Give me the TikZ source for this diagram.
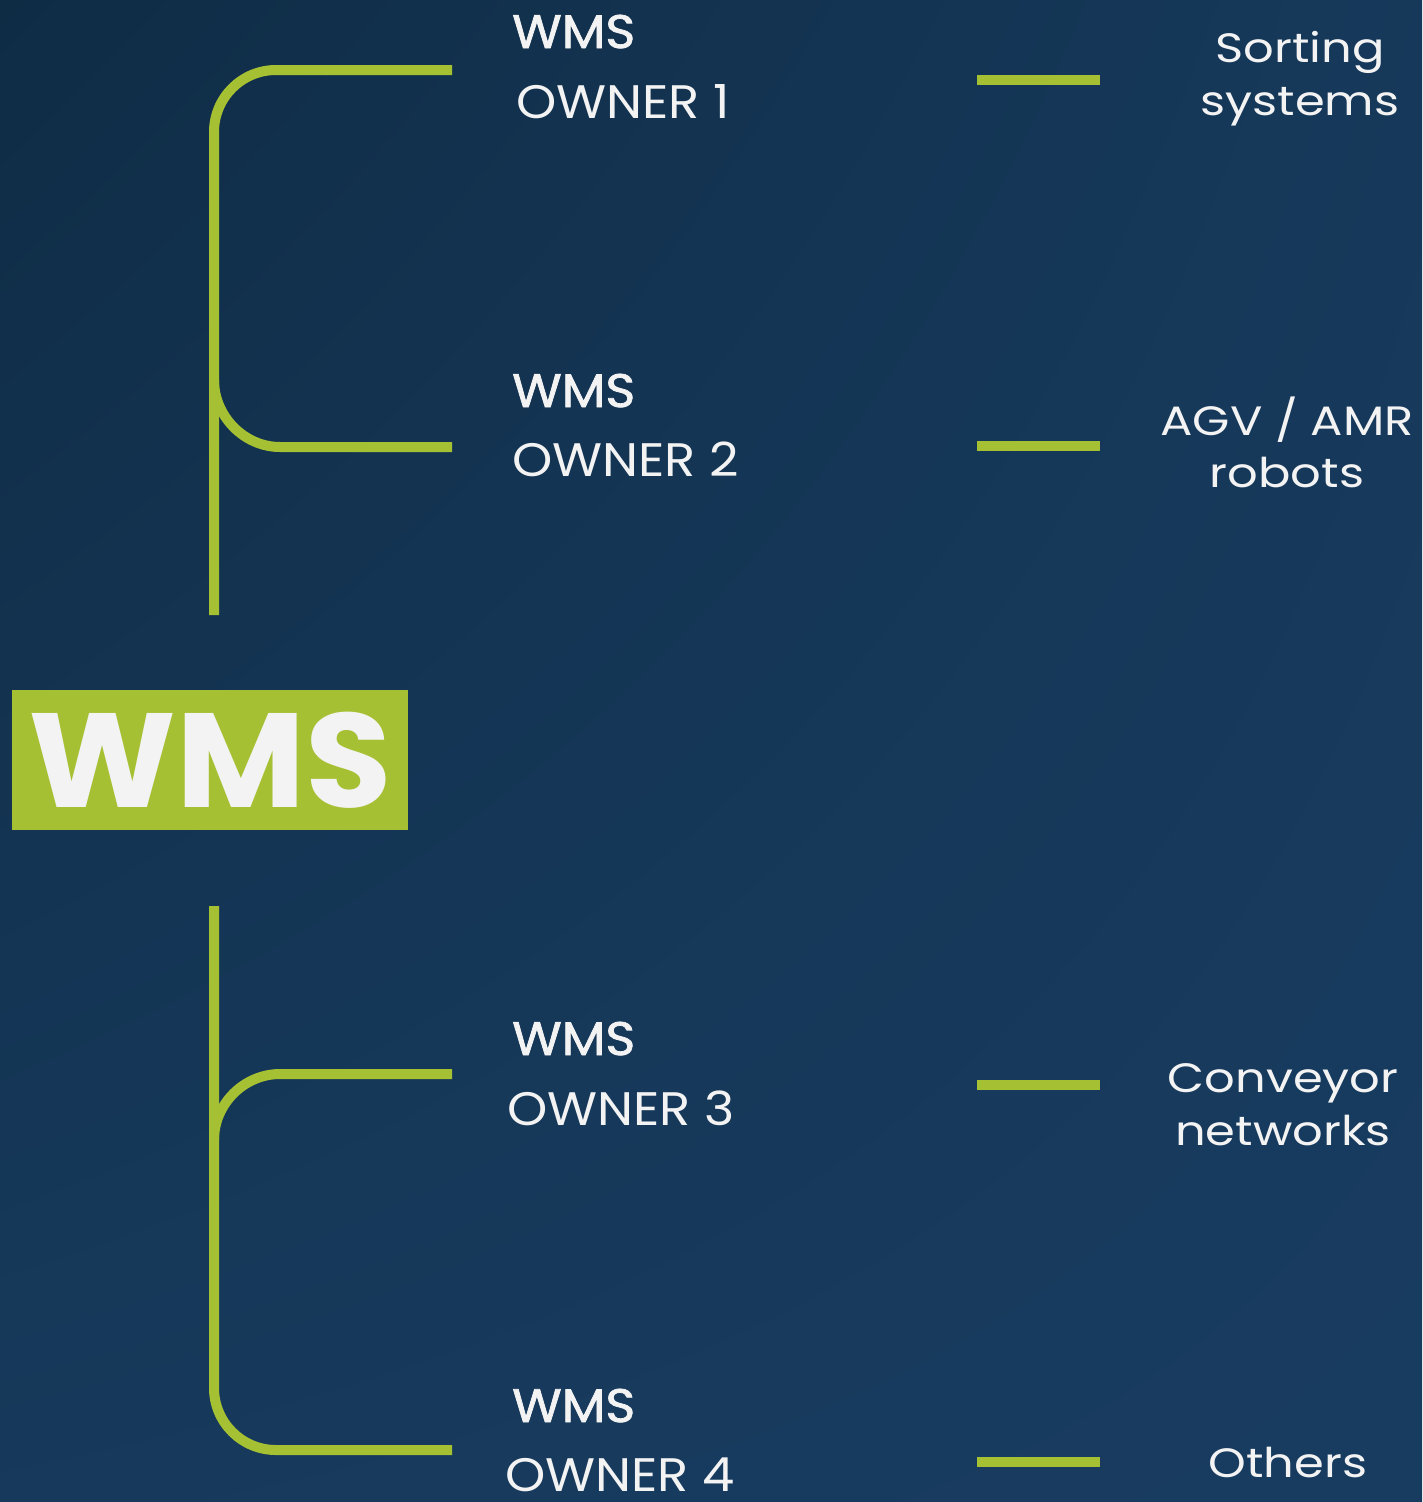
\documentclass[tikz,border=0pt]{standalone}
\usepackage{fontspec}
\setmainfont{Poppins}
\newfontfamily\labfnt[FakeStretch=1.09]{Poppins}
\newfontfamily\labbfnt[FakeStretch=1.08,FakeBold=1.6]{Poppins}
\newfontfamily\rfnt[FakeStretch=1.17]{Poppins}
\newfontfamily\bigfnt[FakeStretch=1.05]{Poppins}
\usetikzlibrary{shadings}
\begin{document}
\begin{tikzpicture}[x=1pt,y=-1pt,
  gline/.style={draw=wmsgreen,line width=10pt,line cap=butt},
  lab/.style={text=txt,inner sep=0pt,anchor=base west},
  rlab/.style={text=txt,inner sep=0pt,anchor=base},
  labfont/.style={font=\labfnt\fontsize{47}{56}\selectfont},
  labbold/.style={font=\labbfnt\fontsize{47}{56}\selectfont},
  rfont/.style={font=\rfnt\fontsize{41}{48}\selectfont}]
\definecolor{wmsgreen}{HTML}{A6C034}
\definecolor{txt}{HTML}{F3F3F3}
\definecolor{bgA}{HTML}{0F2C45}
\definecolor{bgB}{HTML}{183C60}
\useasboundingbox (0,0) rectangle (1422,1502);
\shade[upper left=bgA,lower left=bgB!85!bgA,upper right=bgB!80!bgA,lower right=bgB] (0,0) rectangle (1422,1502);

% central box
\node[fill=wmsgreen,minimum width=396pt,minimum height=140pt,inner sep=0pt,anchor=north west] (box) at (12,690) {};
\node[text=txt,inner sep=0pt,anchor=base,font=\bigfnt\bfseries\fontsize{134}{140}\selectfont] (boxt) at (210,807) {WMS};

% left labels
\node[lab,labbold] (w1) at (512,48) {WMS};
\node[lab,labfont] (o1) at (516,118) {OWNER 1};
\node[lab,labbold] (w2) at (512,407) {WMS};
\node[lab,labfont] (o2) at (512,476) {OWNER 2};
\node[lab,labbold] (w3) at (512,1055) {WMS};
\node[lab,labfont] (o3) at (507,1125) {OWNER 3};
\node[lab,labbold] (w4) at (512,1422) {WMS};
\node[lab,labfont] (o4) at (505,1491) {OWNER 4};

% right labels
\node[rlab,rfont] (r1a) at (1300,62) {Sorting};
\node[rlab,rfont] (r1b) at (1300,115) {systems};
\node[rlab,rfont] (r2a) at (1287,435) {AGV / AMR};
\node[rlab,rfont] (r2b) at (1287,487) {robots};
\node[rlab,rfont] (r3a) at (1283,1092) {Conveyor};
\node[rlab,rfont] (r3b) at (1283,1145) {networks};
\node[rlab,rfont] (r4) at (1288,1477) {Others};

% coordinates
\coordinate (t0) at (214,615);
\coordinate (t1) at (452,70);
\coordinate (t2) at (452,447);
\coordinate (b0) at (214,906);
\coordinate (b3) at (452,1074);
\coordinate (b4) at (452,1450);
\foreach \i/\y in {1/80,2/446,3/1085,4/1462}{
  \coordinate (da\i) at (977,\y);
  \coordinate (db\i) at (1100,\y);
  \draw[gline] (da\i) -- (db\i);
}

% brackets
\draw[gline,rounded corners=62pt] (t0) -- (214,70) -- (t1);
\draw[gline] (214,380) .. controls (214,416) and (244,447) .. (280,447) -- (t2);
\draw[gline,rounded corners=62pt] (b0) -- (214,1450) -- (b4);
\draw[gline] (214,1140) .. controls (214,1104) and (244,1074) .. (280,1074) -- (b3);
\end{tikzpicture}
\end{document}
